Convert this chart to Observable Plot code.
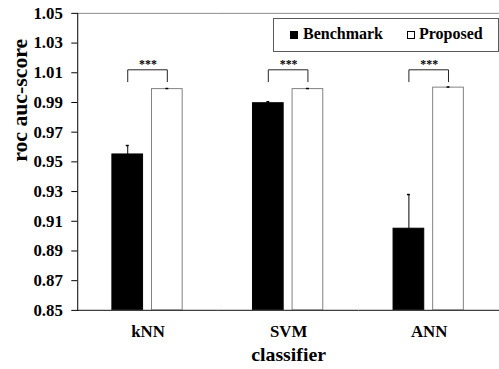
<!DOCTYPE html>
<html>
<head>
<meta charset="utf-8">
<script src="https://cdn.jsdelivr.net/npm/d3@7"></script>
<script src="https://cdn.jsdelivr.net/npm/@observablehq/plot@0.6"></script>
<style>
  html, body { margin: 0; padding: 0; background: white; }
  #wrap { position: relative; width: 499px; height: 369px; overflow: hidden; background: white; }
  #wrap svg { display: block; }
  g[aria-label="fx-axis label"] text { font-size: 20px; }
  .legend { position: absolute; left: 273px; top: 18px; width: 226px; height: 34px; box-sizing: border-box;
    border: 1px solid #5a5a5a; background: white;
    font-family: "Liberation Serif", "Times New Roman", serif; font-weight: bold; font-size: 16px; }
  .legend .sq { position: absolute; top: 12px; width: 8px; height: 8px; box-sizing: border-box; }
  .legend .lbl { position: absolute; top: 6px; white-space: nowrap; }
</style>
</head>
<body>
<div id="wrap"></div>
<script>
const classifiers = ["kNN", "SVM", "ANN"];
const series = ["Benchmark", "Proposed"];
const benchmarkValues = [0.955, 0.9895, 0.905];
const benchmarkErrors = [0.006, 0.001, 0.023];
const proposedValues = [0.999, 0.999, 1.0];
const proposedErrors = [0.0004, 0.0004, 0.0004];
const yTicks = [0.85, 0.87, 0.89, 0.91, 0.93, 0.95, 0.97, 0.99, 1.01, 1.03, 1.05];
const yDomain = [0.85, 1.05];
const yTitle = "roc auc-score";
const xTitle = "classifier";
const sigLabels = ["***", "***", "***"];
const bracketTop = 1.012;
const bracketLeg = 1.004;
const sigTextY = 1.0155;

const rows = [];
classifiers.forEach((c, i) => {
  rows.push({classifier: c, series: "Benchmark", value: benchmarkValues[i], err: benchmarkErrors[i]});
  rows.push({classifier: c, series: "Proposed", value: proposedValues[i], err: proposedErrors[i]});
});
const brackets = [];
classifiers.forEach(c => {
  brackets.push({classifier: c, series: "Benchmark", y: bracketLeg});
  brackets.push({classifier: c, series: "Benchmark", y: bracketTop});
  brackets.push({classifier: c, series: "Proposed", y: bracketTop});
  brackets.push({classifier: c, series: "Proposed", y: bracketLeg});
});
const sig = classifiers.map((c, i) => ({classifier: c, label: sigLabels[i], y: sigTextY}));

const chart = Plot.plot({
  width: 504,
  height: 369,
  marginLeft: 77,
  marginRight: 0,
  marginTop: 13,
  marginBottom: 56,
  style: {fontFamily: "'Liberation Serif', 'Times New Roman', serif", fontSize: "16px", fontWeight: "bold", background: "white", color: "black"},
  fx: {domain: classifiers, padding: 0, axis: null},
  x: {domain: series, paddingInner: 0.22, paddingOuter: 0.85, axis: null},
  y: {domain: yDomain, ticks: yTicks, axis: null},
  marks: [
    Plot.ruleY([yDomain[1]], {stroke: "#8a8a8a", strokeWidth: 1}),
    Plot.barY(rows, {fx: "classifier", x: "series", y1: () => yDomain[0], y2: "value",
      fill: d => d.series === "Benchmark" ? "black" : "white",
      stroke: d => d.series === "Benchmark" ? "black" : "#808080", strokeWidth: 1}),
    Plot.ruleX(rows, {fx: "classifier", x: "series", y1: "value", y2: d => d.value + d.err, stroke: "black", strokeWidth: 1}),
    Plot.tickY(rows, {fx: "classifier", x: "series", y: d => d.value + d.err, stroke: "black", strokeWidth: 1.5, insetLeft: 14, insetRight: 14}),
    Plot.line(brackets, {fx: "classifier", x: "series", y: "y", z: "classifier", stroke: "#222", strokeWidth: 1}),
    Plot.text(sig, {fx: "classifier", y: "y", text: "label", fontSize: 12, fontWeight: "bold", frameAnchor: "middle"}),
    Plot.ruleY([yDomain[0]], {stroke: "#404040", strokeWidth: 1.2}),
    Plot.frame({anchor: "left", facet: "super", stroke: "black"}),
    Plot.axisY(yTicks, {tickSize: 6, tickPadding: 9, fontSize: 17, tickFormat: d3.format(".2f"), label: null}),
    Plot.text([yTitle], {facet: "super", frameAnchor: "left", rotate: -90, dx: -58, lineAnchor: "middle", fontSize: 22, fontWeight: "bold"}),
    Plot.axisFx({anchor: "bottom", tickSize: 0, tickPadding: 15, fontSize: 17, label: xTitle, labelAnchor: "center", labelArrow: "none", labelOffset: 51})
  ]
});
const wrap = document.getElementById("wrap");
wrap.appendChild(chart);

const legend = document.createElement("div");
legend.className = "legend";
legend.innerHTML = `
  <span class="sq" style="left:16px;background:black;"></span>
  <span class="lbl" style="left:29px;">${series[0]}</span>
  <span class="sq" style="left:133px;border:1px solid black;background:white;"></span>
  <span class="lbl" style="left:145px;">${series[1]}</span>`;
wrap.appendChild(legend);
</script>
</body>
</html>
